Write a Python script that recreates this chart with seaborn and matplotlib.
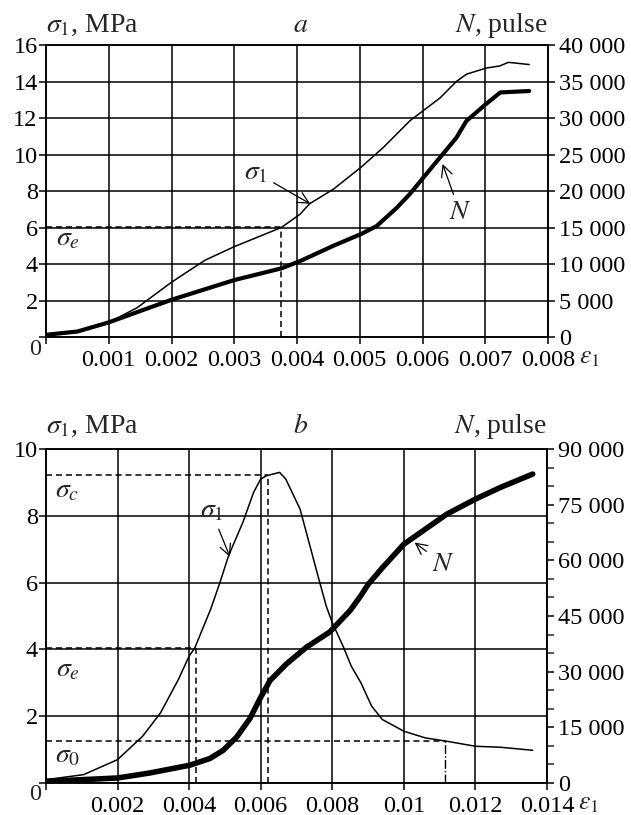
import matplotlib
matplotlib.use('Agg')
import matplotlib.pyplot as plt
import seaborn as sns
import numpy as np

# ---- panel a data ----
a_eps_s = [0.0, 0.0005, 0.001, 0.00145, 0.002, 0.00253, 0.003, 0.00375, 0.00405,
           0.0042, 0.00458, 0.00502, 0.00538, 0.0058, 0.00601, 0.00628,
           0.00654, 0.0067, 0.00702, 0.00723, 0.00737, 0.0077]
a_sigma = [0.15, 0.3, 0.8, 1.6, 3.0, 4.2, 4.95, 6.0, 6.73,
           7.3, 8.1, 9.3, 10.4, 11.85, 12.4, 13.1,
           14.0, 14.4, 14.74, 14.85, 15.05, 14.93]
a_eps_n = [0.0, 0.0005, 0.001, 0.00145, 0.002, 0.003, 0.00375, 0.00405, 0.00458,
           0.00502, 0.00527, 0.00559, 0.0058, 0.00601, 0.00628, 0.00654, 0.0067,
           0.00701, 0.00724, 0.0077]
a_pulses = [300, 750, 2000, 3400, 5100, 7800, 9400, 10400, 12500,
            14100, 15200, 17700, 19600, 21800, 24600, 27300, 29600,
            31900, 33500, 33700]
a_sigma_e, a_eps_e = 6.05, 0.00375

# ---- panel b data ----
b_eps_s = [0.0, 0.00105, 0.002, 0.0027, 0.0032, 0.0037, 0.004, 0.00416, 0.0046,
           0.00486, 0.0051, 0.0055, 0.0058, 0.006, 0.00616, 0.00653, 0.0067,
           0.0071, 0.0074, 0.0076, 0.00783, 0.008, 0.0083, 0.00853, 0.0088,
           0.0091, 0.0094, 0.01, 0.0106, 0.0112, 0.012, 0.0127, 0.0136]
b_sigma = [0.1, 0.25, 0.7, 1.4, 2.1, 3.1, 3.8, 4.05, 5.2,
           6.0, 6.8, 7.8, 8.7, 9.1, 9.2, 9.3, 9.1,
           8.2, 7.0, 6.2, 5.3, 4.8, 4.1, 3.5, 3.0,
           2.3, 1.9, 1.55, 1.35, 1.25, 1.1, 1.07, 0.98]
b_eps_n = [0.0, 0.002, 0.0029, 0.00402, 0.00458, 0.00495, 0.00533, 0.0057, 0.006,
           0.00626, 0.00672, 0.00728, 0.00793, 0.0085, 0.0088, 0.009, 0.0094,
           0.01, 0.0106, 0.0112, 0.012, 0.0127, 0.0136]
b_pulses = [450, 1350, 2700, 4800, 6600, 8800, 12400, 17400, 23100,
            27600, 32100, 36600, 40700, 46500, 50500, 53500, 58000,
            64350, 68400, 72450, 76500, 79650, 83250]
b_sigma_c, b_eps_c = 9.22, 0.0062
b_sigma_e, b_eps_e = 4.05, 0.0042
b_sigma_0, b_eps_0 = 1.25, 0.01116

a_xticks = [0.001, 0.002, 0.003, 0.004, 0.005, 0.006, 0.007, 0.008]
a_xlabels = ['0.001', '0.002', '0.003', '0.004', '0.005', '0.006', '0.007', '0.008']
b_xticks = [0.002, 0.004, 0.006, 0.008, 0.010, 0.012, 0.014]
b_xlabels = ['0.002', '0.004', '0.006', '0.008', '0.01', '0.012', '0.014']

sns.set_style('white')
plt.rcParams['font.family'] = ['Liberation Serif', 'DejaVu Serif']
plt.rcParams['mathtext.fontset'] = 'stix'
plt.rcParams['axes.linewidth'] = 1.1

TICK = 17.5
LAB = 20


def fmt_thousands(v):
    return f'{int(v):,}'.replace(',', ' ')


def setup(ax, ax2, xmax, xticks, xlabels, ymax, ystep, nmax, nstep, nminor, title, head):
    ax.set_xlim(0, xmax)
    ax.set_ylim(0, ymax)
    ax2.set_ylim(0, nmax)
    ax.set_xticks([0] + xticks)
    ax.set_xticklabels([''] + xlabels, fontsize=TICK)
    yt = list(np.arange(0, ymax + 0.1, ystep))
    ax.set_yticks(yt)
    ax.set_yticklabels([''] + [f'{int(v)}' for v in yt[1:]], fontsize=TICK)
    nt = list(range(0, nmax + 1, nstep))
    ax2.set_yticks(nt)
    ax2.set_yticklabels([fmt_thousands(v) for v in nt], fontsize=TICK)
    if nminor:
        ax2.set_yticks(list(range(0, nmax + 1, nminor)), minor=True)
    ax.grid(True, color='k', lw=1.1)
    ax2.grid(False)
    for a_ in (ax, ax2):
        a_.tick_params(direction='out', length=5, width=1.1, pad=2, colors='k')
        a_.tick_params(which='minor', direction='out', length=5, width=1.1)
        for s in a_.spines.values():
            s.set_color('k')
            s.set_linewidth(1.1)
    ax.tick_params(axis='x', pad=4, bottom=True)
    ax.tick_params(axis='y', left=True, pad=1)
    ax2.tick_params(axis='y', right=True, pad=3)
    ax.set_xlabel('')
    ax.set_ylabel('')
    ax2.set_ylabel('')
    ax.annotate('0', xy=(0, 0), xycoords='axes fraction', xytext=(-5, -12),
                textcoords='offset pixels', ha='right', va='center', fontsize=TICK)
    ax.annotate(r'$\varepsilon_1$', xy=(1, 0), xycoords='axes fraction', xytext=(31, -10),
                textcoords='offset pixels', ha='left', va='top', fontsize=18.5)
    kw = dict(xycoords='axes fraction', textcoords='offset pixels', va='baseline',
              fontsize=LAB)
    ax.annotate(r'$\sigma_1$, MPa', xy=(0, 1), xytext=(0, head), ha='left', **kw)
    ax.annotate(r'$N$, pulse', xy=(1, 1), xytext=(0, head), ha='right', **kw)
    ax.annotate(title, xy=(0.5, 1), xytext=(4, head), ha='center', **kw)


fig = plt.figure(figsize=(6.31, 8.15), dpi=100)
ax_a = fig.add_axes([46 / 631, 1 - 337 / 815, 502 / 631, 292 / 815])
ax_a2 = ax_a.twinx()
ax_b = fig.add_axes([46 / 631, 1 - 783 / 815, 501 / 631, 334 / 815])
ax_b2 = ax_b.twinx()

dash = dict(color='k', lw=1.1, linestyles=(0, (4, 2.5)))
arrow = dict(arrowstyle='->', color='k', lw=0.9, shrinkA=2, shrinkB=0)

# panel a
sns.lineplot(x=a_eps_s, y=a_sigma, ax=ax_a, color='k', lw=1.1, estimator=None, sort=False)
sns.lineplot(x=a_eps_n, y=a_pulses, ax=ax_a2, color='k', lw=3.0, estimator=None, sort=False)
ax_a.hlines(a_sigma_e, 0, a_eps_e, **dash)
ax_a.vlines(a_eps_e, 0, a_sigma_e, **dash)
setup(ax_a, ax_a2, 0.008, a_xticks, a_xlabels, 16, 2, 40000, 5000, None, r'$a$', 13)
ax_a.text(0.00035, 5.35, r'$\sigma_e$', fontsize=LAB, ha='center', va='center')
ax_a.annotate(r'$\sigma_1$', xy=(0.00421, 7.3), xytext=(0.00335, 9.0), fontsize=LAB,
              ha='center', va='center', arrowprops=arrow)
ax_a2.annotate(r'$N$', xy=(0.00632, 23700), xytext=(0.0066, 17000), fontsize=LAB,
               ha='center', va='center', arrowprops=arrow)

# panel b
sns.lineplot(x=b_eps_s, y=b_sigma, ax=ax_b, color='k', lw=1.1, estimator=None, sort=False)
sns.lineplot(x=b_eps_n, y=b_pulses, ax=ax_b2, color='k', lw=4.0, estimator=None, sort=False)
ax_b.hlines([b_sigma_c, b_sigma_e, b_sigma_0], 0, [b_eps_c, b_eps_e, b_eps_0], **dash)
ax_b.vlines([b_eps_c, b_eps_e], 0, [b_sigma_c, b_sigma_e], **dash)
ax_b.vlines(b_eps_0, 0, b_sigma_0, color='k', lw=1.0, linestyles='dashdot')
setup(ax_b, ax_b2, 0.014, b_xticks, b_xlabels, 10, 2, 90000, 15000, 5000, r'$b$', 16)
ax_b.text(0.0006, 8.75, r'$\sigma_c$', fontsize=LAB, ha='center', va='center')
ax_b.text(0.0006, 3.4, r'$\sigma_e$', fontsize=LAB, ha='center', va='center')
ax_b.text(0.0006, 0.8, r'$\sigma_0$', fontsize=LAB, ha='center', va='center')
ax_b.annotate(r'$\sigma_1$', xy=(0.00514, 6.77), xytext=(0.00462, 8.15), fontsize=LAB,
              ha='center', va='center', arrowprops=arrow)
ax_b2.annotate(r'$N$', xy=(0.0103, 64800), xytext=(0.0111, 59000), fontsize=LAB,
               ha='center', va='center', arrowprops=arrow)

fig.savefig('out.png', dpi=100)
